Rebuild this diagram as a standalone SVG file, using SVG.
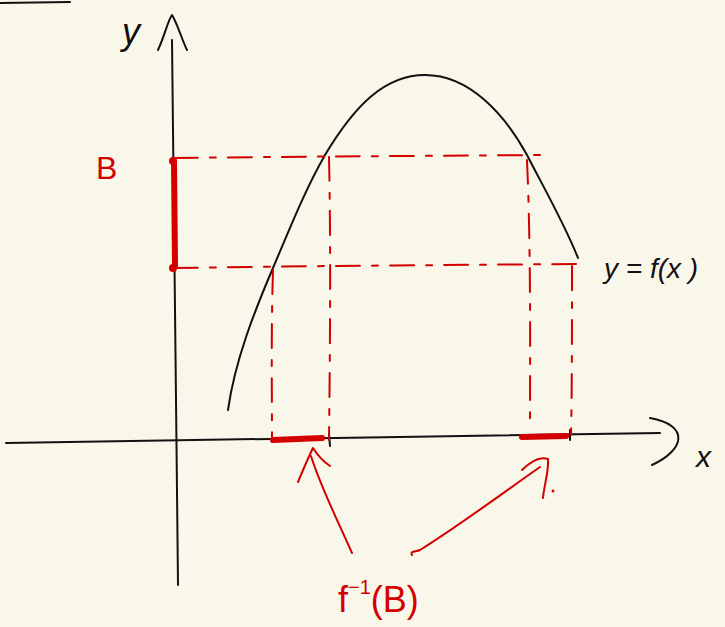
<svg xmlns="http://www.w3.org/2000/svg" width="725" height="627" viewBox="0 0 725 627">
<style>
.ink{fill:none;stroke:#111;stroke-width:2;stroke-linecap:round;stroke-linejoin:round}
.red{fill:none;stroke:#d40000;stroke-width:2;stroke-linecap:round;stroke-linejoin:round}
.dash{fill:none;stroke:#d40000;stroke-width:2;stroke-linecap:round;stroke-dasharray:24 12 6 12}
.thick{fill:none;stroke:#d40000;stroke-width:6;stroke-linecap:round}
.lbl{font-family:"Liberation Sans",Arial,sans-serif;font-style:italic}
.up{font-style:normal}
.lblk{fill:#111}
.lblr{fill:#d40000}
</style>
<rect width="725" height="627" fill="#f9f6ea"/>
<g id="axes">
<path class="ink" d="M0,3 L70,2"/>
<path class="ink" d="M172,40 C174,200 176,400 178,585"/>
<path class="ink" d="M158,50 C165,35 168,20 172,15 C178,25 182,40 187,50"/>
<path class="ink" d="M6,443 C200,440 450,436 660,433"/>
<path class="ink" d="M650,418 C690,425 685,450 652,465"/>
<path class="ink" d="M329,434 L330,446 M570,430 L570,440"/>
</g>
<g id="curve">
<path class="ink" d="M228,410 C235,360 255,310 273,268 C290,228 305,190 325,155 C355,105 385,75 425,75 C470,75 505,115 527,155 C545,190 565,225 578,258"/>
</g>
<g id="connectors">
<path class="dash" d="M174,158 C250,157 400,156 540,155"/>
<path class="dash" d="M174,268 C300,266 450,265 580,264"/>
<path class="dash" d="M273,270 C271,330 272,390 272,442"/>
<path class="dash" d="M329,157 C331,250 330,350 329,440"/>
<path class="dash" d="M527,160 C531,250 530,350 530,428"/>
<path class="dash" d="M572,266 C572,330 572,390 571,435"/>
<path class="thick" d="M174,162 L175,266"/>
<circle cx="173" cy="161" r="4" fill="#d40000"/>
<circle cx="173" cy="268" r="4" fill="#d40000"/>
<path class="thick" d="M273,440 L322,438"/>
<path class="thick" d="M522,437 L566,436"/>
<path class="red" d="M352,553 C335,515 320,485 311,456"/>
<path class="red" d="M298,482 C303,470 308,458 313,448 C318,456 324,462 330,466"/>
<path class="red" d="M412,555 C410,551 415,552 420,550 C460,525 500,495 540,467"/>
<path class="red" d="M522,470 C530,462 540,456 548,459 C549,472 544,485 543,498"/>
<circle cx="553" cy="491" r="1.5" fill="#d40000"/>
</g>
<g id="labels">
<text class="lbl lblk" x="122" y="44" font-size="36">y</text>
<text class="lbl lblr up" x="96" y="179" font-size="32">B</text>
<text class="lbl lblk" x="604" y="278" font-size="28">y = f(x )</text>
<text class="lbl lblk" x="696" y="467" font-size="30">x</text>
<text class="lbl lblr up" x="338" y="612" font-size="36">f<tspan font-size="20" dy="-18">−1</tspan><tspan dy="18">(B)</tspan></text>
</g>
</svg>
